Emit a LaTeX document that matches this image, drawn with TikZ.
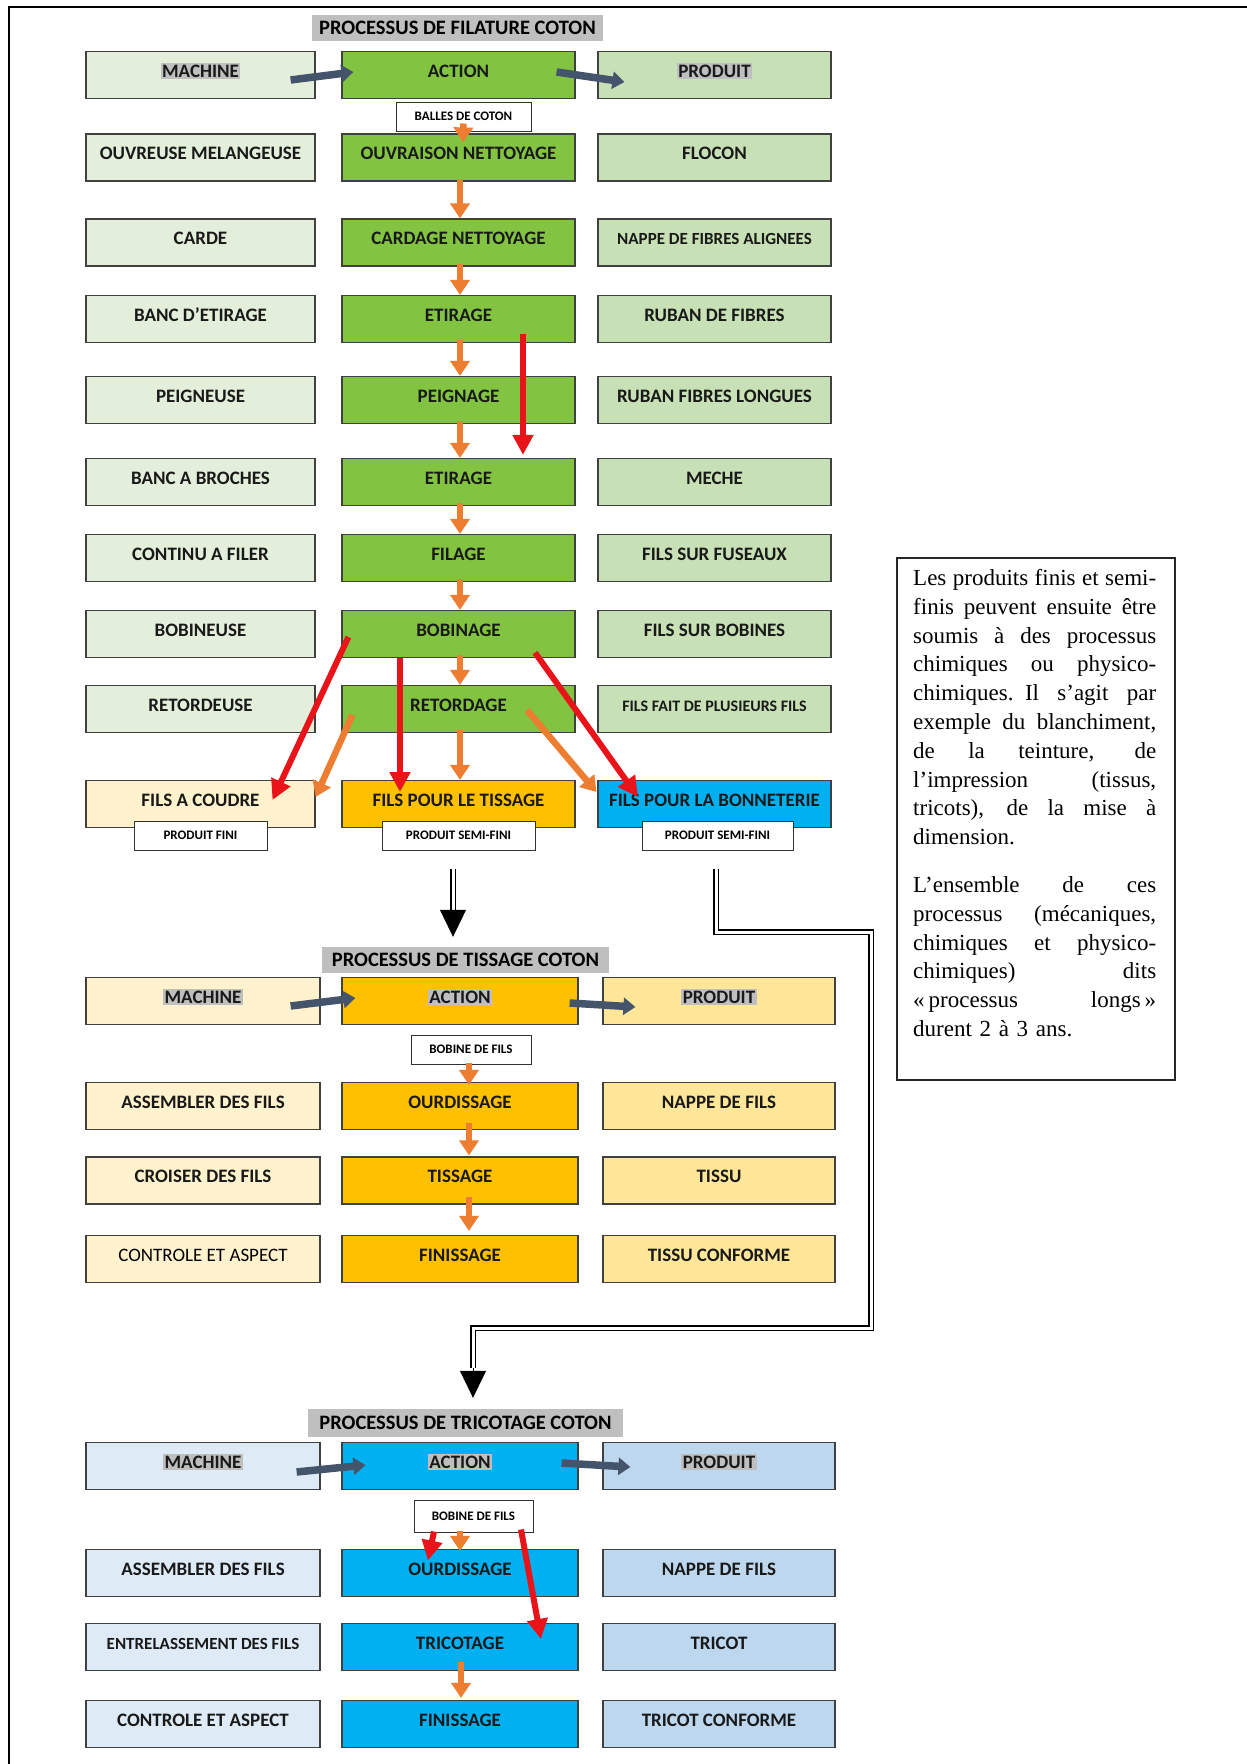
\documentclass[tikz,border=0pt]{standalone}
\usepackage{fontspec}
\usetikzlibrary{arrows.meta,calc}
\newfontfamily\boxfont{Carlito}
\newfontfamily\serifbox{Liberation Serif}
\definecolor{filL}{HTML}{E3EFDA}
\definecolor{filC}{HTML}{82C341}
\definecolor{filR}{HTML}{C7E0B5}
\definecolor{cream}{HTML}{FFF2CC}
\definecolor{amber}{HTML}{FFC000}
\definecolor{sky}{HTML}{00B0F0}
\definecolor{tisR}{HTML}{FFE699}
\definecolor{triL}{HTML}{DEEBF7}
\definecolor{triR}{HTML}{BDD7EE}
\definecolor{arrOr}{HTML}{ED7D31}
\definecolor{arrRed}{HTML}{E8141A}
\definecolor{arrSl}{HTML}{44546A}
\definecolor{hlgrey}{HTML}{BFBFBF}
\newcommand\hlt[1]{{\setlength{\fboxsep}{1.5pt}\colorbox{hlgrey}{#1}}}
\newcommand\jline[1]{\hbox to 243pt{\spaceskip=0.25em plus 3em minus 0.08em #1}\par}
\newcommand\lline[1]{\hbox{#1}\par}
\newcommand\orangedown[2]{\draw[oarr] ($(#1.south)+(1.5,-3)$) -- ($(#2.north)+(1.5,0)$);}
\begin{document}
\begin{tikzpicture}[x=1pt,y=-1pt,
  bx/.style={draw=black!75, line width=1.2pt, minimum height=47pt, inner sep=0pt,
    font=\boxfont\bfseries\fontsize{19}{22}\selectfont, text=black!90,
    text height=13pt, text depth=9pt},
  fl/.style={bx, fill=filL, minimum width=229pt},
  fc/.style={bx, fill=filC, minimum width=233pt},
  fr/.style={bx, fill=filR, minimum width=233pt},
  tl/.style={bx, fill=cream, minimum width=234pt},
  tc/.style={bx, fill=amber, minimum width=236pt},
  tr/.style={bx, fill=tisR, minimum width=232pt},
  kl/.style={bx, fill=triL, minimum width=234pt},
  kc/.style={bx, fill=sky, minimum width=236pt},
  kr/.style={bx, fill=triR, minimum width=232pt},
  tag/.style={draw=black!80, line width=1pt, fill=white, inner sep=0pt, minimum height=29pt,
    font=\boxfont\bfseries\fontsize{13}{15}\selectfont},
  ttl/.style={fill=hlgrey, inner sep=0pt, minimum height=26pt,
    font=\boxfont\bfseries\fontsize{20.5}{24}\selectfont},
  small/.style={font=\boxfont\bfseries\fontsize{17}{20}\selectfont},
  smaller/.style={font=\boxfont\bfseries\fontsize{16}{19}\selectfont},
  oarr/.style={draw=arrOr, line width=6.5pt, -{Triangle[width=19pt,length=15pt]}},
  rarr/.style={draw=arrRed, line width=6pt, -{Triangle[width=20pt,length=20pt]}},
  sarr/.style={draw=arrSl, line width=7.5pt, -{Triangle[width=17pt,length=12pt]}},
  dbl/.style={draw=black, line width=1.3pt, double=white, double distance=3pt},
  dhead/.style={draw=black, fill=black, line width=1pt, -{Triangle[width=26pt,length=27pt]}}
]
\useasboundingbox (0,0) rectangle (1247,1764);
\fill[white] (0,0) rectangle (1247,1764);
\draw[line width=2pt] (1247,7) -- (9,7) -- (9,1764);

% ---------------- FILATURE ----------------
\node[ttl, minimum width=291pt] (ft) at (457.5,28) {PROCESSUS DE FILATURE COTON};
\node[fl] (f1l) at (200.5,75) {\hlt{MACHINE}};
\node[fc] (f1c) at (458.5,75) {ACTION};
\node[fr] (f1r) at (714.5,75) {\hlt{PRODUIT}};
\node[tag, minimum width=135pt] (fb) at (463.5,116.5) {BALLES DE COTON};
\node[fl] (f2l) at (200.5,157.5) {OUVREUSE MELANGEUSE};
\node[fc] (f2c) at (458.5,157.5) {OUVRAISON NETTOYAGE};
\node[fr] (f2r) at (714.5,157.5) {FLOCON};
\node[fl] (f3l) at (200.5,242.5) {CARDE};
\node[fc] (f3c) at (458.5,242.5) {CARDAGE NETTOYAGE};
\node[fr,small] (f3r) at (714.5,242.5) {NAPPE DE FIBRES ALIGNEES};
\node[fl] (f4l) at (200.5,319) {BANC D’ETIRAGE};
\node[fc] (f4c) at (458.5,319) {ETIRAGE};
\node[fr] (f4r) at (714.5,319) {RUBAN DE FIBRES};
\node[fl] (f5l) at (200.5,400) {PEIGNEUSE};
\node[fc] (f5c) at (458.5,400) {PEIGNAGE};
\node[fr] (f5r) at (714.5,400) {RUBAN FIBRES LONGUES};
\node[fl] (f6l) at (200.5,482) {BANC A BROCHES};
\node[fc] (f6c) at (458.5,482) {ETIRAGE};
\node[fr] (f6r) at (714.5,482) {MECHE};
\node[fl] (f7l) at (200.5,558) {CONTINU A FILER};
\node[fc] (f7c) at (458.5,558) {FILAGE};
\node[fr] (f7r) at (714.5,558) {FILS SUR FUSEAUX};
\node[fl] (f8l) at (200.5,634) {BOBINEUSE};
\node[fc] (f8c) at (458.5,634) {BOBINAGE};
\node[fr] (f8r) at (714.5,634) {FILS SUR BOBINES};
\node[fl] (f9l) at (200.5,709) {RETORDEUSE};
\node[fc] (f9c) at (458.5,709) {RETORDAGE};
\node[fr,smaller] (f9r) at (714.5,709) {FILS FAIT DE PLUSIEURS FILS};
\node[bx, fill=cream, minimum width=229pt] (f10l) at (200.5,804) {FILS A COUDRE};
\node[bx, fill=amber, minimum width=233pt] (f10c) at (458.5,804) {FILS POUR LE TISSAGE};
\node[bx, fill=sky, minimum width=233pt] (f10r) at (714.5,804) {FILS POUR LA BONNETERIE};
\node[tag, minimum width=133pt] (fp1) at (200.5,835.5) {PRODUIT FINI};
\node[tag, minimum width=153pt] (fp2) at (458.5,835.5) {PRODUIT SEMI-FINI};
\node[tag, minimum width=151pt] (fp3) at (717.5,835.5) {PRODUIT SEMI-FINI};

\draw[sarr] ($(f1l.east)+(-25,5)$) -- ($(f1c.west)+(12,-3)$);
\draw[sarr] ($(f1c.east)+(-19,-3)$) -- ($(f1r.west)+(27,7)$);
\draw[oarr] ($(fb.south)+(0,-8)$) -- ($(f2c.north)+(4.5,9)$);
\orangedown{f2c}{f3c}
\orangedown{f3c}{f4c}
\orangedown{f4c}{f5c}
\orangedown{f5c}{f6c}
\orangedown{f6c}{f7c}
\orangedown{f7c}{f8c}
\orangedown{f8c}{f9c}
\orangedown{f9c}{f10c}
\draw[rarr] ($(f4c.south)+(64.5,-9)$) -- ($(f6c.north)+(64.5,-3)$);
\draw[oarr] ($(f9c.west)+(11,6)$) -- ($(f10l.east)+(0,-7)$);
\draw[oarr] ($(f9c.center)+(68.5,1)$) -- ($(f10r.west)+(-1,-12)$);
\draw[rarr] ($(f8c.west)+(7,3)$) -- ($(f10l.center)+(72,-4)$);
\draw[rarr] ($(f8c.south)+(-58.5,0)$) -- ($(f10c.center)+(-58.5,-12)$);
\draw[rarr] ($(f8c.south)+(76.5,-5.5)$) -- ($(f10r.center)+(-76.5,-7)$);

% ---------------- TISSAGE ----------------
\node[ttl, minimum width=287pt] (tt) at (465.5,960) {PROCESSUS DE TISSAGE COTON};
\node[tl] (t1l) at (203,1001) {\hlt{MACHINE}};
\node[tc] (t1c) at (460,1001) {\hlt{ACTION}};
\node[tr] (t1r) at (719,1001) {\hlt{PRODUIT}};
\node[tag, minimum width=120pt] (tb) at (471,1049.5) {BOBINE DE FILS};
\node[tl] (t2l) at (203,1106) {ASSEMBLER DES FILS};
\node[tc] (t2c) at (460,1106) {OURDISSAGE};
\node[tr] (t2r) at (719,1106) {NAPPE DE FILS};
\node[tl] (t3l) at (203,1180.5) {CROISER DES FILS};
\node[tc] (t3c) at (460,1180.5) {TISSAGE};
\node[tr] (t3r) at (719,1180.5) {TISSU};
\node[tl, font=\boxfont\mdseries\fontsize{19}{22}\selectfont, text=black] (t4l) at (203,1259) {CONTROLE ET ASPECT};
\node[tc] (t4c) at (460,1259) {FINISSAGE};
\node[tr] (t4r) at (719,1259) {TISSU CONFORME};

\draw[sarr] ($(t1l.east)+(-30,5)$) -- ($(t1c.west)+(14,-3)$);
\draw[sarr] ($(t1c.east)+(-9,2)$) -- ($(t1r.west)+(33,6)$);
\draw[oarr] ($(tb.south)+(-2,-2)$) -- ($(t2c.north)+(9,3)$);
\draw[oarr] ($(t2c.south)+(9,-7)$) -- ($(t3c.north)+(9,-1)$);
\draw[oarr] ($(t3c.south)+(9,-8)$) -- ($(t4c.north)+(9,-4)$);

% ---------------- TRICOTAGE ----------------
\node[ttl, minimum width=315pt, minimum height=28pt] (kt) at (465.5,1423) {PROCESSUS DE TRICOTAGE COTON};
\node[kl] (k1l) at (203,1466) {\hlt{MACHINE}};
\node[kc] (k1c) at (460,1466) {\hlt{ACTION}};
\node[kr] (k1r) at (719,1466) {\hlt{PRODUIT}};
\node[tag, minimum width=119pt, minimum height=32pt] (kb) at (473.5,1516) {BOBINE DE FILS};
\node[kl] (k2l) at (203,1573) {ASSEMBLER DES FILS};
\node[kc] (k2c) at (460,1573) {OURDISSAGE};
\node[kr] (k2r) at (719,1573) {NAPPE DE FILS};
\node[kl,small] (k3l) at (203,1647) {ENTRELASSEMENT DES FILS};
\node[kc] (k3c) at (460,1647) {TRICOTAGE};
\node[kr] (k3r) at (719,1647) {TRICOT};
\node[kl] (k4l) at (203,1724) {CONTROLE ET ASPECT};
\node[kc] (k4c) at (460,1724) {FINISSAGE};
\node[kr] (k4r) at (719,1724) {TRICOT CONFORME};

\draw[sarr] ($(k1l.east)+(-24,6)$) -- ($(k1c.west)+(24,-1)$);
\draw[sarr] ($(k1c.east)+(-17,-3)$) -- ($(k1r.west)+(28,1)$);
\draw[oarr] ($(kb.south)+(-13.5,-2)$) -- ($(k2c.north)+(0,2)$);
\draw[rarr] ($(kb.south)+(-39.5,-1)$) -- ($(k2c.north)+(-32,11.5)$);
\draw[rarr] ($(kb.south)+(47.5,-3)$) -- ($(k3c.center)+(81,-8)$);
\draw[oarr] ($(k3c.south)+(1,-9)$) -- ($(k4c.north)+(1,-2)$);

% ---------------- double connectors ----------------
\coordinate (d1s) at ($(fp2.south)+(-5.5,18)$);
\coordinate (d1h) at ($(tt.north)+(-12.5,-37)$);
\coordinate (d1t) at ($(tt.north)+(-12.5,-10)$);
\draw[dbl] (d1s) -- (d1h);
\draw[dhead] (d1h) -- (d1t);

\coordinate (d2s) at ($(fp3.south)+(-1.5,18)$);
\coordinate (d2a) at (716,932);
\coordinate (d2b) at (871,932);
\coordinate (d2c) at (871,1328);
\coordinate (d2d) at (473,1328);
\coordinate (d2h) at ($(kt.north)+(7.5,-41)$);
\coordinate (d2t) at ($(kt.north)+(7.5,-11)$);
\draw[dbl] (d2s) -- (d2a) -- (d2b) -- (d2c) -- (d2d) -- (d2h);
\draw[dhead] (d2h) -- (d2t);

% ---------------- note ----------------
\node[draw=black!85, line width=1.5pt, anchor=north west, inner sep=0pt,
  minimum width=278pt, minimum height=522pt] (note) at (896,557) {};
\node[anchor=north west, inner sep=0pt, text width=243pt,
  font=\serifbox\fontsize{23}{28.8}\selectfont] (notetext) at (913,569) {%
\setlength{\parindent}{0pt}%
\jline{Les produits finis et semi-}
\jline{finis peuvent ensuite être}
\jline{soumis à des processus}
\jline{chimiques ou physico-}
\jline{chimiques. Il s’agit par}
\jline{exemple du blanchiment,}
\jline{de la teinture, de}
\jline{l’impression (tissus,}
\jline{tricots), de la mise à}
\lline{dimension.}
\vspace{19pt}
\jline{L’ensemble de ces}
\jline{processus (mécaniques,}
\jline{chimiques et physico-}
\jline{chimiques) dits}
\jline{«\kern4pt processus longs\kern4pt»}
\lline{durent 2 à 3 ans.}};
\end{tikzpicture}
\end{document}
